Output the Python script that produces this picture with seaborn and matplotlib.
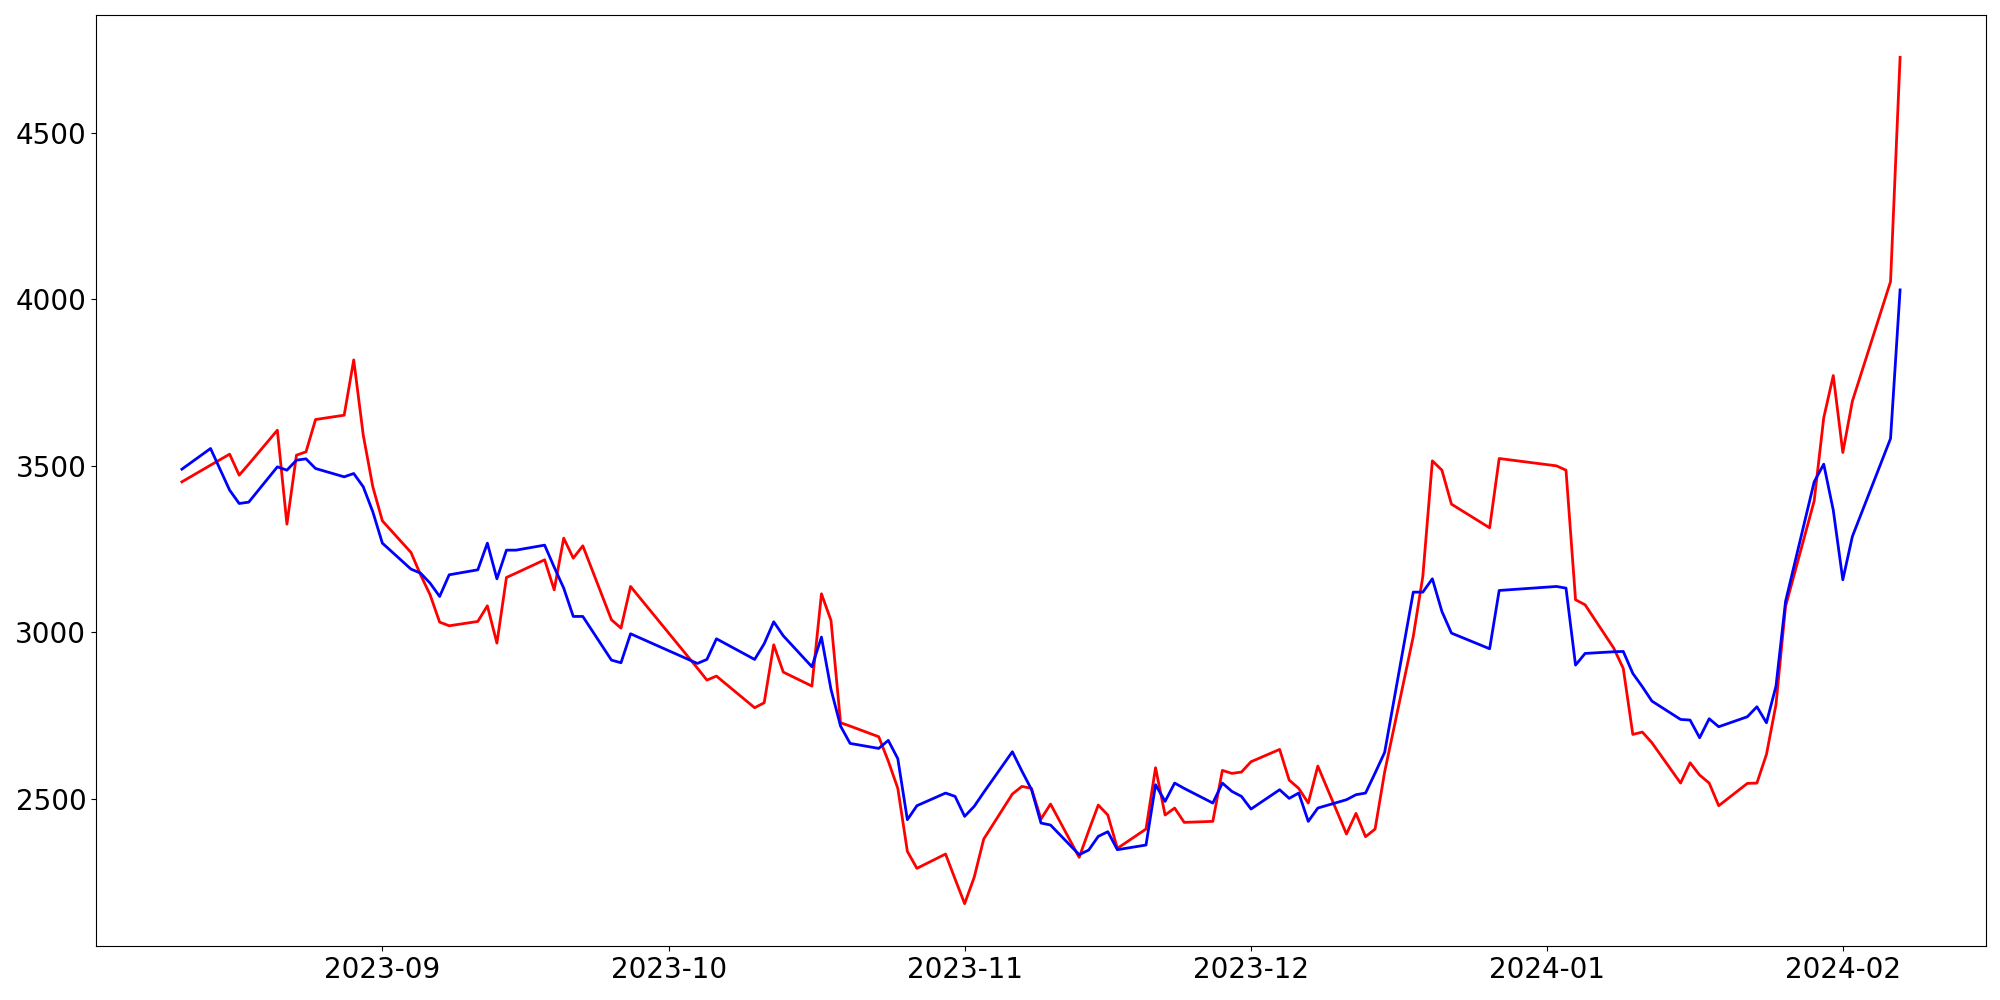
import pandas as pd
import matplotlib
matplotlib.use('Agg')
import matplotlib.pyplot as plt
import seaborn as sns

# trading days (weekdays), minus the days that are absent from the series
start_date = '2023-08-11'
end_date = '2024-02-07'
missing_days = ['2023-08-15', '2023-09-28', '2023-09-29', '2023-10-02', '2023-10-03',
                '2023-10-09', '2023-12-25', '2023-12-28', '2023-12-29', '2024-01-01',
                '2024-02-05']

red_aug = [3452, 3502, 3535, 3472, 3505, 3607, 3325, 3532, 3542, 3639, 3652, 3818, 3592, 3437]
red_sep = [3335, 3240, 3173, 3113, 3031, 3020, 3033, 3080, 2968, 3165, 3178, 3218, 3128, 3283,
           3223, 3260, 3038, 3013, 3138]
red_oct = [2893, 2857, 2869, 2774, 2789, 2963, 2881, 2839, 3116, 3036, 2729, 2719, 2687, 2614,
           2532, 2343, 2292, 2335, 2260]
red_nov = [2186, 2265, 2380, 2515, 2538, 2532, 2440, 2485, 2325, 2405, 2482, 2452, 2352, 2410,
           2594, 2452, 2473, 2430, 2433, 2586, 2577, 2581]
red_dec = [2612, 2649, 2557, 2532, 2488, 2599, 2395, 2457, 2387, 2410, 2581, 2988, 3168, 3515,
           3487, 3385, 3314, 3522]
red_jan = [3500, 3487, 3098, 3083, 2953, 2892, 2694, 2701, 2669, 2548, 2609, 2572, 2548, 2480,
           2547, 2548, 2634, 2784, 3078, 3395, 3644, 3771]
red_feb = [3540, 3694, 4053, 4726]

blue_aug = [3490, 3552, 3427, 3387, 3391, 3497, 3487, 3517, 3521, 3492, 3467, 3477, 3437, 3362]
blue_sep = [3268, 3190, 3178, 3148, 3108, 3173, 3188, 3268, 3161, 3247, 3247, 3262, 3196, 3133,
            3048, 3048, 2917, 2909, 2996]
blue_oct = [2907, 2919, 2981, 2919, 2966, 3032, 2990, 2897, 2986, 2829, 2719, 2667, 2652, 2676,
            2621, 2438, 2480, 2518, 2508]
blue_nov = [2448, 2478, 2520, 2642, 2584, 2529, 2428, 2422, 2333, 2347, 2388, 2402, 2348, 2362,
            2543, 2493, 2548, 2532, 2488, 2548, 2523, 2508]
blue_dec = [2470, 2528, 2502, 2518, 2433, 2473, 2498, 2513, 2518, 2578, 2640, 3121, 3121, 3161,
            3063, 2998, 2951, 3126]
blue_jan = [3138, 3133, 2902, 2937, 2942, 2943, 2877, 2837, 2794, 2739, 2737, 2684, 2741, 2717,
            2747, 2777, 2729, 2839, 3093, 3452, 3505, 3367]
blue_feb = [3158, 3288, 3582, 4028]

dates = pd.bdate_range(start_date, end_date, freq='C', holidays=missing_days)
red = red_aug + red_sep + red_oct + red_nov + red_dec + red_jan + red_feb
blue = blue_aug + blue_sep + blue_oct + blue_nov + blue_dec + blue_jan + blue_feb

df = pd.DataFrame({'date': dates, 'red': red, 'blue': blue})

fig, ax = plt.subplots(figsize=(20, 10), dpi=100)
sns.lineplot(data=df, x='date', y='red', color='red', linewidth=2, ax=ax)
sns.lineplot(data=df, x='date', y='blue', color='blue', linewidth=2, ax=ax)
ax.set_xlabel('')
ax.set_ylabel('')
ax.tick_params(labelsize=20)

fig.subplots_adjust(left=0.048, right=0.993, top=0.985, bottom=0.054)
fig.savefig('out.png')
